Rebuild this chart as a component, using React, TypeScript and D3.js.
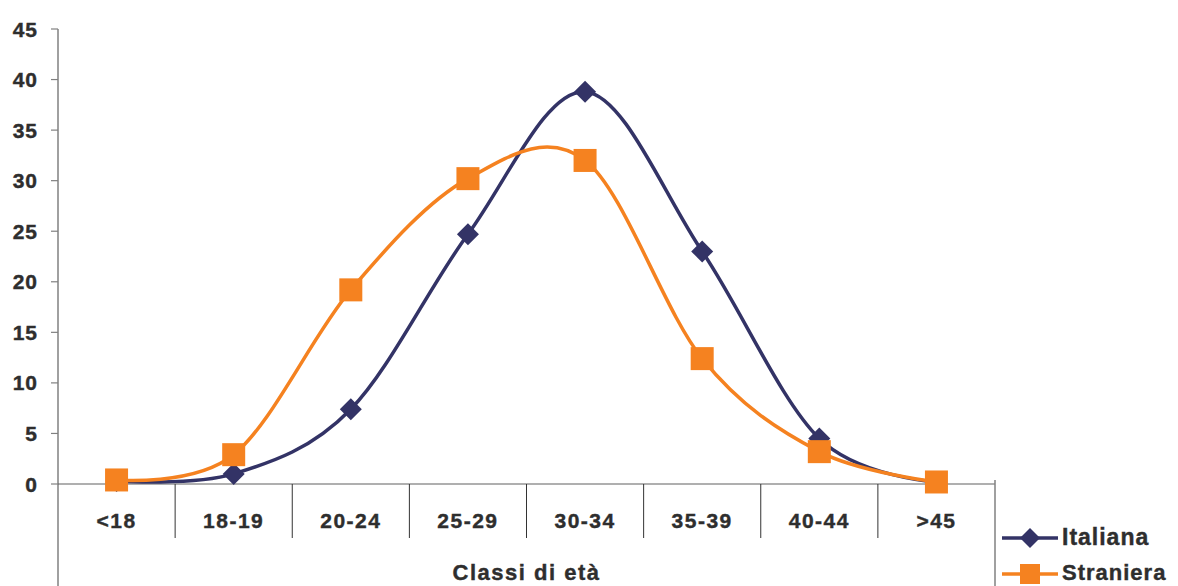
import React from "react";
import * as d3 from "d3";

const categories = ["<18", "18-19", "20-24", "25-29", "30-34", "35-39", "40-44", ">45"];
const italiana = [0.3, 1.0, 7.4, 24.7, 38.8, 23.0, 4.5, 0.2];
const straniera = [0.4, 2.9, 19.2, 30.2, 32.0, 12.4, 3.2, 0.2];
const yTicks = [0, 5, 10, 15, 20, 25, 30, 35, 40, 45];

const W = 1178;
const H = 586;
const left = 58;
const right = 995;
const top = 29;
const bottom = 484;
const NAVY = "#333366";
const ORANGE = "#F58220";
const TEXT = "#2e2e2e";

export default function App() {
  const x = d3.scaleBand<string>().domain(categories).range([left, right]);
  const y = d3.scaleLinear().domain([0, 45]).range([bottom, top]);
  const cx = (c: string) => (x(c) as number) + x.bandwidth() / 2;
  const line = d3
    .line<number>()
    .x((_, i) => cx(categories[i]))
    .y((d) => y(d))
    .curve(d3.curveCardinal.tension(0));

  const font = "'Liberation Sans', Arial, sans-serif";
  const diamond = (px: number, py: number, r: number) =>
    `M${px},${py - r}L${px + r},${py}L${px},${py + r}L${px - r},${py}Z`;
  const textStyle = { stroke: TEXT, strokeWidth: 0.4 };

  return (
    <svg
      width={W}
      height={H}
      style={{ position: "absolute", left: 0, top: 0, background: "#fff" }}
      fontFamily={font}
    >
      {/* y axis */}
      <line x1={left} x2={left} y1={top} y2={H} stroke="#808080" strokeWidth={1.5} />
      {yTicks.map((t) => (
        <g key={t}>
          <line x1={left - 7} x2={left} y1={y(t)} y2={y(t)} stroke="#808080" strokeWidth={1.2} />
          <text
            x={38}
            y={y(t) + 7.5}
            textAnchor="end"
            fontSize={21}
            fontWeight="bold"
            fill={TEXT}
            letterSpacing={1}
            style={textStyle}
          >
            {t}
          </text>
        </g>
      ))}
      {/* x axis */}
      <line x1={left} x2={right} y1={bottom} y2={bottom} stroke="#606060" strokeWidth={1.2} />
      <line x1={right} x2={right} y1={bottom - 4} y2={H} stroke="#808080" strokeWidth={1.5} />
      {categories.slice(1).map((c) => (
        <line
          key={c}
          x1={x(c) as number}
          x2={x(c) as number}
          y1={bottom}
          y2={538}
          stroke="#333"
          strokeWidth={1}
        />
      ))}
      {categories.map((c) => (
        <text
          key={c}
          x={cx(c)}
          y={528}
          textAnchor="middle"
          fontSize={21}
          fontWeight="bold"
          fill={TEXT}
          letterSpacing={1.5}
          style={textStyle}
        >
          {c}
        </text>
      ))}
      <text
        x={(left + right) / 2}
        y={580}
        textAnchor="middle"
        fontSize={22}
        fontWeight="bold"
        fill={TEXT}
        letterSpacing={1.5}
        style={textStyle}
      >
        Classi di età
      </text>

      {/* lines */}
      <path d={line(italiana) || ""} fill="none" stroke={NAVY} strokeWidth={3.5} />
      <path d={line(straniera) || ""} fill="none" stroke={ORANGE} strokeWidth={3.5} />
      {italiana.map((v, i) => (
        <path key={"i" + i} d={diamond(cx(categories[i]), y(v), 11)} fill={NAVY} />
      ))}
      {straniera.map((v, i) => (
        <rect
          key={"s" + i}
          x={cx(categories[i]) - 11.5}
          y={y(v) - 11.5}
          width={23}
          height={23}
          fill={ORANGE}
        />
      ))}

      {/* legend */}
      <line x1={1002} x2={1058} y1={538} y2={538} stroke={NAVY} strokeWidth={3.5} />
      <path d={diamond(1030, 538, 10)} fill={NAVY} />
      <text x={1062} y={545} fontSize={23} fontWeight="bold" fill={TEXT} letterSpacing={1} style={textStyle}>
        Italiana
      </text>
      <line x1={1002} x2={1058} y1={574} y2={574} stroke={ORANGE} strokeWidth={3.5} />
      <rect x={1020} y={564} width={20} height={20} fill={ORANGE} />
      <text x={1062} y={580} fontSize={22} fontWeight="bold" fill={TEXT} letterSpacing={1} style={textStyle}>
        Straniera
      </text>
    </svg>
  );
}
